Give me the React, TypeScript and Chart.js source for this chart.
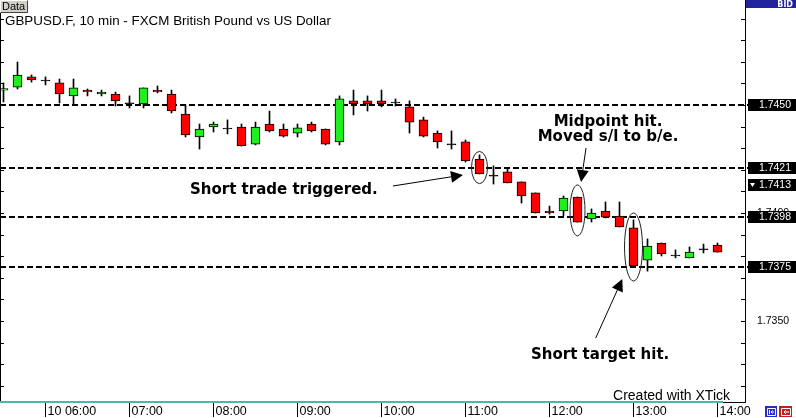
import React, { useEffect, useRef } from 'react';
import { Chart, registerables } from 'chart.js';

Chart.register(...registerables);

// ---- data (10-minute candles, GBPUSD) ----
const times = [
  '05:30', '05:40', '05:50',
  '06:00', '06:10', '06:20', '06:30', '06:40', '06:50',
  '07:00', '07:10', '07:20', '07:30', '07:40', '07:50',
  '08:00', '08:10', '08:20', '08:30', '08:40', '08:50',
  '09:00', '09:10', '09:20', '09:30', '09:40', '09:50',
  '10:00', '10:10', '10:20', '10:30', '10:40', '10:50',
  '11:00', '11:10', '11:20', '11:30', '11:40', '11:50',
  '12:00', '12:10', '12:20', '12:30', '12:40', '12:50',
  '13:00', '13:10', '13:20', '13:30', '13:40', '13:50',
  '14:00',
];
const opens = [
  1.74569, 1.74583, 1.7463, 1.74611, 1.74602, 1.74542, 1.74569, 1.74551, 1.74551, 1.74505,
  1.74505, 1.74569, 1.74551, 1.74458, 1.74352, 1.74398, 1.74389, 1.74398, 1.74319, 1.74412,
  1.74389, 1.7437, 1.74412, 1.74389, 1.74329, 1.74519, 1.74519, 1.74519, 1.74509, 1.74491,
  1.74431, 1.7437, 1.74315, 1.74329, 1.7425, 1.74171, 1.7419, 1.74144, 1.74093, 1.74009,
  1.74009, 1.74074, 1.73972, 1.74009, 1.73986, 1.73931, 1.73782, 1.73861, 1.73801, 1.73792,
  1.73829, 1.73852,
];
const highs = [
  1.74602, 1.74699, 1.74639, 1.7463, 1.7462, 1.7462, 1.74574, 1.74569, 1.7456, 1.74542,
  1.74579, 1.74588, 1.74569, 1.745, 1.74412, 1.74421, 1.74431, 1.74412, 1.74421, 1.74472,
  1.74412, 1.74412, 1.74421, 1.74389, 1.74542, 1.74569, 1.74542, 1.74569, 1.74528, 1.74519,
  1.74444, 1.7438, 1.7438, 1.74338, 1.74269, 1.74218, 1.74208, 1.74144, 1.74093, 1.74032,
  1.74079, 1.74074, 1.74019, 1.74051, 1.74051, 1.73968, 1.7388, 1.73861, 1.73829, 1.73843,
  1.73856, 1.73861,
];
const lows = [
  1.74514, 1.74574, 1.74606, 1.74593, 1.74509, 1.745, 1.74542, 1.74542, 1.74495, 1.74486,
  1.74486, 1.74556, 1.74463, 1.74352, 1.74296, 1.74375, 1.74366, 1.7431, 1.74315, 1.74375,
  1.74352, 1.74352, 1.74375, 1.74315, 1.74315, 1.74454, 1.74472, 1.74491, 1.74495, 1.7437,
  1.74352, 1.74301, 1.74296, 1.74236, 1.74181, 1.74134, 1.74139, 1.74046, 1.74, 1.73995,
  1.73986, 1.73958, 1.73958, 1.73977, 1.73935, 1.73755, 1.73731, 1.73801, 1.73792, 1.73792,
  1.73815, 1.73819,
];
const closes = [
  1.74576, 1.74639, 1.74616, 1.74611, 1.74551, 1.74579, 1.7456, 1.7456, 1.74519, 1.74505,
  1.74579, 1.7456, 1.74472, 1.74361, 1.74389, 1.74412, 1.74389, 1.7431, 1.74398, 1.7438,
  1.74356, 1.74394, 1.7438, 1.74319, 1.74528, 1.74505, 1.74505, 1.74505, 1.74509, 1.74421,
  1.74356, 1.74329, 1.74315, 1.74241, 1.74181, 1.74171, 1.74139, 1.74079, 1.74, 1.74,
  1.74069, 1.73958, 1.74, 1.73981, 1.73935, 1.73755, 1.73847, 1.7381, 1.73801, 1.73819,
  1.73829, 1.73819,
];

const xTickTimes = ['06:00', '07:00', '08:00', '09:00', '10:00', '11:00', '12:00', '13:00', '14:00'];
const xTickLabels = ['10 06:00', '07:00', '08:00', '09:00', '10:00', '11:00', '12:00', '13:00', '14:00'];

const levelPrices = [1.745, 1.7421, 1.7398, 1.7375];
const levelLabels = ['1.7450', '1.7421', '1.7398', '1.7375'];
const lastPrice = 1.7413;
const lastPriceLabel = '1.7413';

const titleText = 'GBPUSD.F, 10 min - FXCM British Pound vs US Dollar';

// annotations (anchored in candle-index / price units)
const noteLines = [['Short trade triggered.'], ['Midpoint hit.', 'Moved s/l to b/e.'], ['Short target hit.']];
const noteX = [13.32, 43.18, 37.68];
const notePrice = [1.74106, 1.74423, 1.73343];
const noteAlign = ['left', 'center', 'left'];

const arrowFromX = [27.82, 41.61, 42.3];
const arrowFromPrice = [1.74125, 1.74301, 1.73421];
const arrowToX = [32.82, 41.25, 44.2];
const arrowToPrice = [1.74176, 1.74144, 1.73694];

const ringCandle = [34, 41, 45];
const ringTop = [1.74285, 1.7413, 1.74];
const ringBottom = [1.74136, 1.73894, 1.73685];

const yMin = 1.73125;
const yMax = 1.74986;
const xMin = -0.25;
const xMax = 52.964;

const GREEN = '#1FEE1F';
const RED = '#FF0000';

const decor = {
  id: 'decor',
  beforeDraw(chart: any) {
    const ctx = chart.ctx;
    ctx.save();
    ctx.fillStyle = '#fff';
    ctx.fillRect(0, 0, chart.width, chart.height);
    ctx.restore();
  },
  beforeDatasetsDraw(chart: any) {
    const { ctx, chartArea } = chart;
    const y = chart.scales.y;
    ctx.save();
    ctx.strokeStyle = '#000';
    ctx.lineWidth = 2;
    ctx.setLineDash([6, 3]);
    levelPrices.forEach((p) => {
      const py = Math.round(y.getPixelForValue(p));
      ctx.beginPath();
      ctx.moveTo(chartArea.left, py);
      ctx.lineTo(chartArea.right + 3, py);
      ctx.stroke();
    });
    ctx.restore();
  },
  afterDraw(chart: any) {
    const { ctx, chartArea } = chart;
    const xs = chart.scales.x;
    const ys = chart.scales.y;
    const W = chart.width;
    ctx.save();

    // left border
    ctx.strokeStyle = '#000';
    ctx.lineWidth = 1;
    ctx.beginPath();
    ctx.moveTo(0.5, 12);
    ctx.lineTo(0.5, chartArea.bottom);
    ctx.stroke();

    // inward tick marks on both sides
    ys.ticks.forEach((t: any) => {
      const py = Math.round(ys.getPixelForValue(t.value)) + 0.5;
      ctx.beginPath();
      ctx.moveTo(chartArea.right - 4, py);
      ctx.lineTo(chartArea.right, py);
      ctx.moveTo(0, py);
      ctx.lineTo(4, py);
      ctx.stroke();
    });

    // bottom border + scroll indicator
    ctx.beginPath();
    ctx.moveTo(0, chartArea.bottom + 0.5);
    ctx.lineTo(chartArea.right + 1, chartArea.bottom + 0.5);
    ctx.stroke();
    ctx.fillStyle = '#48B8AA';
    ctx.fillRect(0, chartArea.bottom - 1, 723, 2);

    // price labels on axis
    ctx.font = '10.5px "Liberation Sans", Arial, sans-serif';
    ctx.textAlign = 'right';
    ctx.textBaseline = 'middle';
    const boxLabel = (p: number, label: string, tri: boolean) => {
      const py = Math.round(ys.getPixelForValue(p));
      ctx.fillStyle = '#000';
      ctx.fillRect(chartArea.right + 3, py - 6, W - chartArea.right - 3, 12);
      ctx.fillStyle = '#fff';
      ctx.fillText(label, W - 5, py + 0.5);
      if (tri) {
        ctx.beginPath();
        ctx.moveTo(chartArea.right + 5, py - 2);
        ctx.lineTo(chartArea.right + 10, py - 2);
        ctx.lineTo(chartArea.right + 7.5, py + 2);
        ctx.closePath();
        ctx.fill();
      }
    };
    levelPrices.forEach((p, i) => boxLabel(p, levelLabels[i], false));
    boxLabel(lastPrice, lastPriceLabel, true);

    // BID header
    ctx.fillStyle = '#23239E';
    ctx.fillRect(chartArea.right + 1, 0, W - chartArea.right - 1, 8);
    ctx.fillStyle = '#fff';
    ctx.font = 'bold 8px "DejaVu Sans", sans-serif';
    ctx.textAlign = 'right';
    ctx.fillText('BID', W - 3, 4.5);

    // Data button
    ctx.fillStyle = '#D4D0C8';
    ctx.fillRect(0, 0, 28, 13);
    ctx.strokeStyle = '#fff';
    ctx.beginPath();
    ctx.moveTo(0.5, 12.5); ctx.lineTo(0.5, 0.5); ctx.lineTo(27.5, 0.5);
    ctx.stroke();
    ctx.strokeStyle = '#404040';
    ctx.beginPath();
    ctx.moveTo(0.5, 12.5); ctx.lineTo(27.5, 12.5); ctx.lineTo(27.5, 0.5);
    ctx.stroke();
    ctx.fillStyle = '#000';
    ctx.font = '11px "Liberation Sans", Arial, sans-serif';
    ctx.textAlign = 'left';
    ctx.fillText('Data', 2, 7);

    // title
    ctx.font = '13.4px "Liberation Sans", Arial, sans-serif';
    ctx.fillText(titleText, 5, 21);

    // rings
    ctx.strokeStyle = '#222';
    ctx.lineWidth = 1;
    const ringRx = [8, 7.5, 9];
    ringCandle.forEach((c, i) => {
      const cx = xs.getPixelForValue(c);
      const y1 = ys.getPixelForValue(ringTop[i]);
      const y2 = ys.getPixelForValue(ringBottom[i]);
      ctx.beginPath();
      ctx.ellipse(cx, (y1 + y2) / 2, ringRx[i], Math.abs(y2 - y1) / 2, 0, 0, Math.PI * 2);
      ctx.stroke();
    });

    // arrows
    ctx.strokeStyle = '#000';
    ctx.fillStyle = '#000';
    arrowFromX.forEach((fx, i) => {
      const x1 = xs.getPixelForValue(fx);
      const y1 = ys.getPixelForValue(arrowFromPrice[i]);
      const x2 = xs.getPixelForValue(arrowToX[i]);
      const y2 = ys.getPixelForValue(arrowToPrice[i]);
      const ang = Math.atan2(y2 - y1, x2 - x1);
      const len = 12;
      const hw = 6;
      const bx = x2 - Math.cos(ang) * len;
      const by = y2 - Math.sin(ang) * len;
      ctx.beginPath();
      ctx.moveTo(x1, y1);
      ctx.lineTo(bx, by);
      ctx.stroke();
      ctx.beginPath();
      ctx.moveTo(x2, y2);
      ctx.lineTo(bx + Math.sin(ang) * hw, by - Math.cos(ang) * hw);
      ctx.lineTo(bx - Math.sin(ang) * hw, by + Math.cos(ang) * hw);
      ctx.closePath();
      ctx.fill();
    });

    // notes
    ctx.font = 'bold 15px "DejaVu Sans", Verdana, sans-serif';
    ctx.textBaseline = 'middle';
    noteLines.forEach((lines, i) => {
      const nx = xs.getPixelForValue(noteX[i]);
      const ny = ys.getPixelForValue(notePrice[i]);
      ctx.textAlign = noteAlign[i] as CanvasTextAlign;
      lines.forEach((ln, j) => ctx.fillText(ln, nx, ny + j * 15));
    });

    // watermark
    ctx.font = '14px "Liberation Sans", Arial, sans-serif';
    ctx.textAlign = 'right';
    ctx.fillText('Created with XTick', chartArea.right - 15, chartArea.bottom - 6);

    // bottom-right buttons
    ctx.fillStyle = '#2A2AC8';
    ctx.fillRect(765, 406, 12, 11);
    ctx.fillStyle = '#C42020';
    ctx.fillRect(779, 406, 13, 11);
    ctx.strokeStyle = '#fff';
    ctx.beginPath();
    ctx.rect(767.5, 408.5, 8, 7);
    ctx.moveTo(769.5, 410); ctx.lineTo(769.5, 414);
    ctx.moveTo(774, 412); ctx.lineTo(771, 412);
    ctx.moveTo(772.5, 410.5); ctx.lineTo(771, 412); ctx.lineTo(772.5, 413.5);
    ctx.rect(781.5, 408.5, 9, 7);
    ctx.moveTo(789, 412); ctx.lineTo(784, 412);
    ctx.moveTo(786, 410); ctx.lineTo(784, 412); ctx.lineTo(786, 414);
    ctx.stroke();

    ctx.restore();
  },
};

export default function App() {
  const ref = useRef<HTMLCanvasElement>(null);
  useEffect(() => {
    document.body.style.margin = '0';
    const canvas = ref.current as HTMLCanvasElement;
    const bodies = times.map((_, i) => ({ x: i, y: [opens[i], closes[i]] }));
    const wicks = times.map((_, i) => ({ x: i, y: [lows[i], highs[i]] }));
    const bodyColors = times.map((_, i) =>
      closes[i] > opens[i] ? GREEN : closes[i] < opens[i] ? RED : '#000'
    );
    const chart = new Chart(canvas, {
      type: 'bar',
      data: {
        datasets: [
          {
            label: 'body',
            data: bodies as any,
            backgroundColor: bodyColors,
            borderColor: '#000',
            borderWidth: 1,
            borderSkipped: false,
            barThickness: 9,
            minBarLength: 1,
            grouped: false,
          } as any,
          {
            label: 'wick',
            data: wicks as any,
            backgroundColor: '#000',
            borderWidth: 0,
            barThickness: 1,
            grouped: false,
          } as any,
        ],
      },
      options: {
        responsive: false,
        animation: false,
        devicePixelRatio: 1,
        events: [],
        layout: { padding: 0 },
        plugins: {
          legend: { display: false },
          tooltip: { enabled: false },
          title: { display: false },
        },
        scales: {
          x: {
            type: 'linear',
            position: 'bottom',
            min: xMin,
            max: xMax,
            offset: false,
            afterBuildTicks: (s: any) => {
              s.ticks = xTickTimes.map((t) => ({ value: times.indexOf(t) }));
            },
            afterFit: (s: any) => {
              s.height = 16;
              s.paddingLeft = 0;
              s.paddingRight = 0;
            },
            grid: {
              display: true,
              drawOnChartArea: false,
              drawTicks: true,
              tickLength: 15,
              color: '#000',
              lineWidth: 1,
              offset: false,
            },
            border: { display: false },
            ticks: {
              autoSkip: false,
              maxRotation: 0,
              minRotation: 0,
              align: 'start',
              labelOffset: 2,
              padding: -13,
              color: '#000',
              font: { family: '"Liberation Sans", Arial, sans-serif', size: 12.5 },
              callback: (_v: any, i: number) => xTickLabels[i],
            },
          } as any,
          y: {
            type: 'linear',
            position: 'right',
            min: yMin,
            max: yMax,
            afterBuildTicks: (s: any) => {
              const arr: any[] = [];
              for (let k = Math.ceil(yMin * 1000); k <= Math.floor(yMax * 1000); k++) arr.push({ value: k / 1000 });
              s.ticks = arr;
            },
            afterFit: (s: any) => {
              s.width = 51;
              s.paddingTop = 0;
              s.paddingBottom = 0;
            },
            grid: { display: true, drawOnChartArea: false, drawTicks: false },
            border: { display: true, color: '#000', width: 1 },
            ticks: {
              autoSkip: false,
              padding: 12,
              color: '#000',
              font: { family: '"Liberation Sans", Arial, sans-serif', size: 10.5 },
              callback: (v: any) => {
                const n = Math.round(Number(v) * 10000);
                return n % 50 === 0 ? (n / 10000).toFixed(4) : '';
              },
            },
          } as any,
        },
      },
      plugins: [decor],
    });
    return () => chart.destroy();
  }, []);
  return (
    <div style={{ width: 796, height: 418 }}>
      <canvas ref={ref} width={796} height={418} style={{ display: 'block' }} />
    </div>
  );
}
